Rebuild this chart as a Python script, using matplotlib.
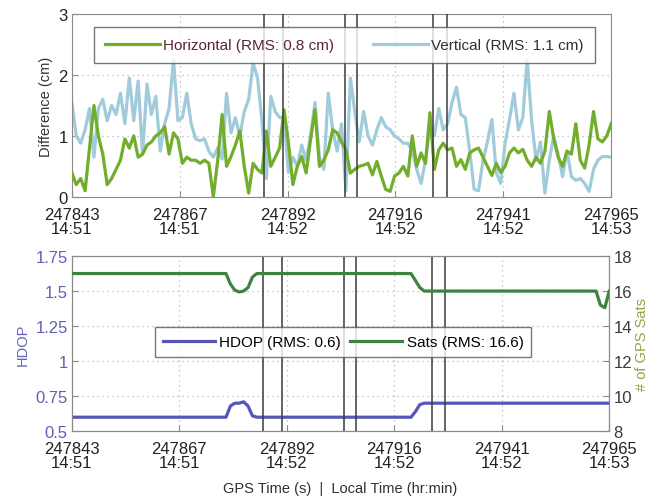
import numpy as np
import matplotlib.pyplot as plt

plt.rcParams['font.family'] = ['Liberation Sans', 'DejaVu Sans']

t0 = 247843
t1 = 247965

# horizontal / vertical position differences (cm), one sample per second
horiz = [0.40, 0.20, 0.30, 0.10, 0.80, 1.50, 1.00, 0.70, 0.20, 0.30,
         0.45, 0.60, 0.95, 0.80, 1.00, 0.65, 0.70, 0.85, 0.90, 1.00,
         1.05, 1.15, 0.70, 1.05, 0.95, 0.55, 0.65, 0.60, 0.60, 0.55,
         0.60, 0.55, 0.00, 0.60, 1.35, 0.50, 0.66, 0.85, 1.08, 0.50,
         0.06, 0.55, 0.45, 0.39, 1.08, 0.50, 0.65, 0.80, 1.43, 0.88,
         0.20, 0.50, 0.66, 0.39, 0.94, 1.43, 0.50, 0.60, 0.77, 1.10,
         1.05, 0.90, 0.77, 0.39, 0.45, 0.50, 0.52, 0.55, 0.36, 0.58,
         0.34, 0.12, 0.09, 0.34, 0.39, 0.50, 0.34, 1.00, 0.50, 0.72,
         0.55, 1.38, 0.45, 0.77, 0.88, 0.77, 0.80, 0.50, 0.61, 0.45,
         0.72, 0.77, 0.80, 0.65, 0.50, 0.35, 0.55, 0.40, 0.50, 0.72,
         0.80, 0.72, 0.78, 0.60, 0.50, 0.65, 0.55, 0.75, 1.40, 0.95,
         0.65, 0.50, 0.75, 0.70, 1.20, 0.60, 0.47, 0.85, 1.40, 0.95,
         0.90, 1.00, 1.20]
vert = [1.55, 1.00, 0.88, 1.10, 1.45, 0.65, 1.45, 1.60, 1.25, 1.50,
        1.35, 1.70, 1.20, 1.95, 1.25, 1.90, 0.70, 1.85, 1.35, 1.65,
        0.75, 1.20, 1.45, 2.25, 1.25, 1.30, 1.70, 1.20, 0.95, 0.92,
        0.95, 0.75, 0.65, 0.80, 0.62, 1.70, 1.05, 1.30, 1.00, 1.40,
        1.60, 2.20, 1.95, 1.25, 0.30, 1.65, 1.40, 1.30, 1.30, 0.40,
        0.65, 0.50, 0.85, 0.60, 1.00, 1.55, 0.65, 0.45, 1.70, 1.10,
        0.75, 1.20, 0.10, 1.95, 1.40, 0.90, 1.40, 1.00, 0.85, 1.10,
        1.30, 1.15, 1.10, 1.00, 0.95, 0.88, 0.88, 0.75, 0.45, 0.22,
        0.60, 1.15, 1.00, 1.45, 1.10, 1.20, 1.55, 1.80, 1.35, 1.30,
        0.75, 0.12, 0.10, 0.60, 0.90, 1.27, 0.40, 0.22, 0.88, 1.27,
        1.70, 1.10, 1.30, 2.25, 1.25, 0.60, 0.90, 0.06, 0.60, 1.00,
        0.70, 0.33, 0.75, 0.33, 0.27, 0.30, 0.22, 0.09, 0.45, 0.60,
        0.66, 0.66, 0.65]

# HDOP and satellite count, piecewise
dop_t = [0, 35, 36, 37, 38, 39, 40, 41, 42, 77, 78, 79, 80, 122]
hdop = [0.60, 0.60, 0.68, 0.70, 0.70, 0.71, 0.68, 0.61, 0.60,
        0.60, 0.64, 0.69, 0.70, 0.70]
sat_t = [0, 35, 36, 37, 38, 39, 40, 41, 42, 77, 78, 79, 80,
         119, 120, 121, 122]
sats = [17, 17, 16.4, 16.05, 15.95, 16.0, 16.2, 16.8, 17,
        17, 16.6, 16.2, 16.0, 16.0, 15.2, 15.05, 16.0]

# event markers (GPS seconds)
events = [247886.5, 247890.8, 247904.8, 247907.5, 247924.8, 247927.8]

xticks = np.linspace(t0, t1, 6)
local = ['14:51', '14:51', '14:52', '14:52', '14:52', '14:53']
xlabels = ['%d\n%s' % (round(v), s) for v, s in zip(xticks, local)]

grid_kw = dict(color='#b8b8b8', linestyle=(0, (1, 3)), linewidth=0.9)
spine_c = '#8a8a8a'

fig = plt.figure(figsize=(6.53, 5.02), dpi=100)
ax1 = fig.add_axes([0.110, 0.606, 0.826, 0.364])
ax2 = fig.add_axes([0.110, 0.139, 0.823, 0.349])

# --- top panel
ts = t0 + np.arange(len(horiz))
ax1.plot(ts, horiz, color='#72ad2c', lw=2.3, label='Horizontal (RMS: 0.8 cm)', zorder=3)
ax1.plot(ts, vert, color='#9fcbdb', lw=2.3, label='Vertical (RMS: 1.1 cm)', zorder=2)
for e in events:
    ax1.axvline(e, color='#3a3a3a', lw=1.1, zorder=4)
ax1.set_xlim(t0, t1)
ax1.set_ylim(0, 3)
ax1.set_yticks([0, 1, 2, 3])
ax1.set_xticks(xticks)
ax1.set_xticklabels(xlabels, linespacing=0.95)
ax1.set_ylabel('Difference (cm)', fontsize=10.5, color='#333333')
ax1.grid(True, **grid_kw)
leg1 = ax1.legend(loc='upper center', bbox_to_anchor=(0.505, 0.97), ncol=2,
                  fontsize=11, frameon=True, fancybox=False, handlelength=3.6,
                  handletextpad=0.25, columnspacing=2.5, borderpad=0.7)
leg1.get_frame().set_edgecolor('#555555')
leg1.get_frame().set_linewidth(1.0)
leg1.get_texts()[0].set_color('#5a2432')
leg1.get_texts()[1].set_color('#303030')

# --- bottom panel
ax3 = ax2.twinx()
ax2.plot(t0 + np.array(dop_t), hdop, color='#5656b8', lw=2.3, label='HDOP (RMS: 0.6)', zorder=3)
ax3.plot(t0 + np.array(sat_t), sats, color='#3e8240', lw=2.3, label='Sats (RMS: 16.6)', zorder=3)
for e in events:
    ax2.axvline(e, color='#3a3a3a', lw=1.1, zorder=4)
ax2.set_xlim(t0, t1)
ax2.set_ylim(0.5, 1.75)
ax2.set_yticks([0.5, 0.75, 1, 1.25, 1.5, 1.75])
ax2.set_yticklabels(['0.5', '0.75', '1', '1.25', '1.5', '1.75'])
ax3.set_ylim(8, 18)
ax3.set_yticks([8, 10, 12, 14, 16, 18])
ax2.set_xticks(xticks)
ax2.set_xticklabels(xlabels, linespacing=0.95)
ax2.grid(True, **grid_kw)
ax2.set_ylabel('HDOP', fontsize=10.5, color='#6262c0')
ax3.set_ylabel('# of GPS Sats', fontsize=10.5, color='#8ea646', labelpad=2)
ax2.set_xlabel('GPS Time (s)  |  Local Time (hr:min)', fontsize=10.5,
               color='#303030', labelpad=8)

h2, l2 = ax2.get_legend_handles_labels()
h3, l3 = ax3.get_legend_handles_labels()
leg2 = ax3.legend(h2 + h3, l2 + l3, loc='center', bbox_to_anchor=(0.505, 0.51), ncol=2,
                  fontsize=11, frameon=True, fancybox=False, handlelength=3.4,
                  handletextpad=0.3, columnspacing=0.6, borderpad=0.5)
leg2.get_frame().set_edgecolor('#555555')
leg2.get_frame().set_linewidth(1.0)

for ax in (ax1, ax2, ax3):
    ax.tick_params(direction='in', length=4, labelsize=12, width=0.8)
    ax.tick_params(axis='x', colors='#8a8a8a', labelcolor='#222222', pad=7)
    for s in ax.spines.values():
        s.set_color(spine_c)
ax1.tick_params(axis='y', colors='#8a8a8a', labelcolor='#222222', pad=3)
ax2.tick_params(axis='y', colors='#8a8a8a', labelcolor='#6060b6', pad=3)
ax3.tick_params(axis='y', colors='#8a8a8a', labelcolor='#3a3a3a', pad=3)

fig.savefig('out.png', dpi=100)
